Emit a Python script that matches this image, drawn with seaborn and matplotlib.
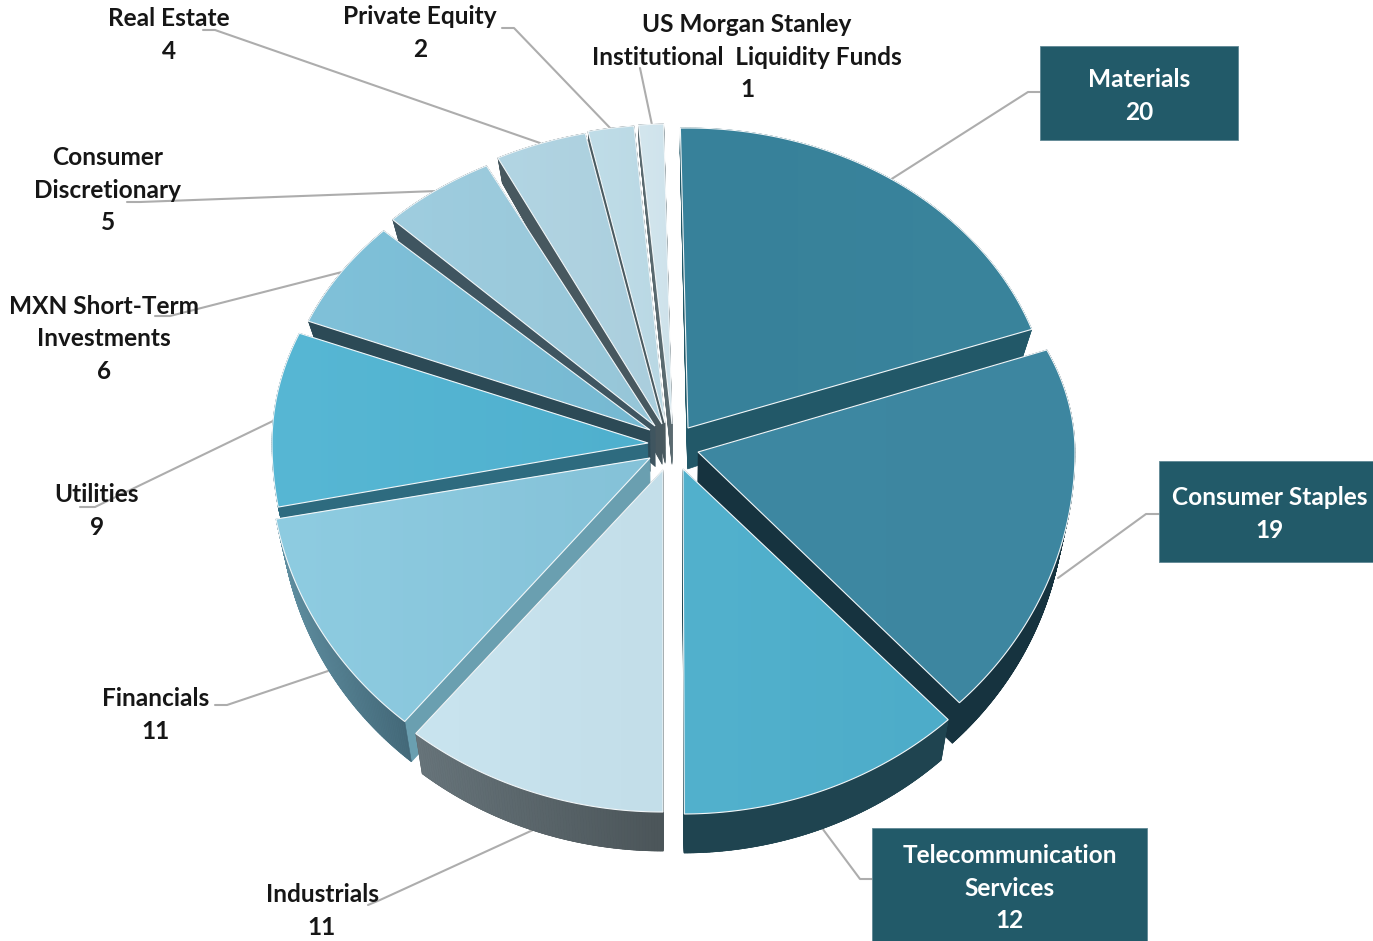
import numpy as np
import matplotlib
matplotlib.use("Agg")
import matplotlib.pyplot as plt
from matplotlib.patches import Polygon, Rectangle
from matplotlib.collections import PolyCollection
from matplotlib.colors import to_rgb, LinearSegmentedColormap
import seaborn as sns

# Portfolio weights by sector
sectors = ["Materials", "Consumer Staples", "Telecommunication\nServices", "Industrials",
           "Financials", "Utilities", "MXN Short-Term\nInvestments", "Consumer\nDiscretionary",
           "Real Estate", "Private Equity", "US Morgan Stanley\nInstitutional  Liquidity Funds"]
weights = [20, 19, 12, 11, 11, 9, 6, 5, 4, 2, 1]

# Colours of the top faces (left and right side), the cut walls and the rim walls
face_left = ["#37819A", "#3E88A2", "#52B1CD", "#C9E4EF", "#8ECCE1", "#57B7D4",
             "#80C1D9", "#9FCDDF", "#B2D5E3", "#C0DDE8", "#D3E6EE"]
face_right = ["#3A849C", "#3D86A0", "#4DACC9", "#C3DEE9", "#85C2D8", "#4FB0CE",
              "#76B9D2", "#96C6D8", "#AACEDD", "#B9D8E4", "#CEE2EB"]
wall_colors = ["#225868", "#16333F", "#1F4450", "#4B5559", "#6A9FB0", "#2E6B7F",
               "#2C4A56", "#3F5560", "#47585F", "#4A5A60", "#5A6A70"]
rim_left = ["#225868", "#16333F", "#1F4450", "#67747A", "#5F8EA0", "#2E6B7F",
            "#2C4A56", "#3F5560", "#47585F", "#4A5A60", "#5A6A70"]
rim_right = ["#225868", "#16333F", "#1F4450", "#4B5559", "#436878", "#2E6B7F",
             "#2C4A56", "#3F5560", "#47585F", "#4A5A60", "#5A6A70"]

# Where each exploded slice sits on the page, in pixels
apex_x = [688, 698, 683, 663, 650, 648, 650, 655, 662, 665, 672]
apex_y = [428, 452, 469, 470, 458, 443, 430, 426, 424, 423, 424]
reach_x = [364, 377, 386, 388, 380, 376, 369, 371, 369, 370, 400]
reach_back = [300, 269, 300, 300, 300, 293, 288, 292, 297, 298, 300]
reach_front = [345, 348, 345, 342, 345, 355, 345, 345, 345, 345, 345]
turn = [0.6, -2.5, -2.0, -1.8, -1.2, -1.4, -1.2, 0.0, 0.6, 0.6, 0.6]
draw_order = [10, 9, 8, 7, 6, 5, 0, 1, 4, 2, 3]

# Callouts: leader line points and text anchors
leaders = [
    [(1040, 92), (1028, 92), (890, 180)],
    [(1159, 514), (1146, 514), (1058, 578)],
    [(872, 879), (860, 879), (822, 828)],
    [(368, 905), (380, 900), (533, 830)],
    [(215, 705), (227, 705), (328, 671)],
    [(80, 507), (95, 507), (275, 420)],
    [(155, 316), (170, 316), (342, 272)],
    [(127, 202), (140, 202), (437, 191)],
    [(203, 30), (215, 30), (540, 143)],
    [(502, 28), (514, 28), (612, 130)],
    [(640, 68), (652, 125)],
]
label_x = [1139, 1270, 1010, 322, 156, 97, 104, 108, 169, 420, 747]
label_y = [96, 514, 888, 911, 715, 511, 339, 190, 35, 33, 57]
boxes = {0: (1040, 46, 198, 94), 1: (1159, 461, 214, 101), 2: (872, 828, 275, 113)}
BOX_COLOR = "#225A69"
LINE_COLOR = "#ADADAD"

sns.set_theme(style="white")
plt.rcParams["font.family"] = ["Lato", "DejaVu Sans"]

W, H = 1373, 941
fig = plt.figure(figsize=(W / 100, H / 100), dpi=100, facecolor="white")
ax = fig.add_axes([0, 0, 1, 1])
wedges, _ = ax.pie(weights, startangle=-91.8, counterclock=True, radius=1,
                   colors=sns.color_palette(face_left))
spans = [(w.theta1, w.theta2) for w in wedges]
for w in wedges:
    w.remove()
ax.set_aspect("auto")
ax.axis("off")


def slice_outline(i, n=90):
    """Arc of slice i in page pixels; the far half of the disc is foreshortened."""
    t = np.radians(np.linspace(spans[i][0] + turn[i], spans[i][1] + turn[i], n))
    ux, uy = np.cos(t), np.sin(t)
    x = apex_x[i] + reach_x[i] * ux
    y = apex_y[i] + np.where(uy > 0, reach_front[i], reach_back[i]) * uy
    return x, y


def drop(x, y, cx, f=1.0):
    """Move points to the underside of the disc: thickest mid-disc, thinner towards the back."""
    depth = np.where(y < 450, np.maximum(44 - (450 - y) * 0.138, 25), 44 - (y - 450) * 0.0138)
    return cx + (x - cx) * (1 - 0.025 * f), y + f * depth


for pts in leaders:
    xs, ys = zip(*pts)
    ax.plot(xs, ys, color=LINE_COLOR, lw=1.5, zorder=1, solid_joinstyle="round")

z = 2
for i in draw_order:
    x, y = slice_outline(i)
    full_x = np.r_[float(apex_x[i]), x]
    full_y = np.r_[float(apex_y[i]), y]
    # Thickness of the disc: stacked copies of the outline between underside and top
    for f in np.linspace(1, 0, 46):
        dx, dy = drop(full_x, full_y, 672, f)
        ax.add_patch(Polygon(np.c_[dx, dy], closed=True, fc=wall_colors[i], ec=wall_colors[i],
                             lw=0.5, zorder=z))
    # Rim wall shaded along the arc
    bx, by = drop(x, y, 672)
    quads = [[(x[k], y[k]), (x[k + 1], y[k + 1]), (bx[k + 1], by[k + 1]), (bx[k], by[k])]
             for k in range(len(x) - 1)]
    lo, hi = np.array(to_rgb(rim_left[i])), np.array(to_rgb(rim_right[i]))
    span = max(x.max() - x.min(), 1)
    cols = [lo + (hi - lo) * np.clip((0.5 * (x[k] + x[k + 1]) - x.min()) / span, 0, 1)
            for k in range(len(x) - 1)]
    ax.add_collection(PolyCollection(quads, facecolors=cols, edgecolors=cols, lw=0.4, zorder=z + 0.1))
    # Top face: soft left-to-right shading clipped to the slice, with a thin light outline
    outline = Polygon(np.c_[full_x, full_y], closed=True, fc="none", ec="#F2F7F9", lw=0.8,
                      zorder=z + 0.3, joinstyle="miter")
    ax.add_patch(outline)
    shade = LinearSegmentedColormap.from_list("face", [face_left[i], face_right[i]])
    img = ax.imshow(np.linspace(0, 1, 64)[None, :], cmap=shade, aspect="auto", zorder=z + 0.2,
                    extent=(full_x.min(), full_x.max(), full_y.max(), full_y.min()),
                    interpolation="bilinear")
    img.set_clip_path(outline)
    z += 1

for i, box in boxes.items():
    ax.add_patch(Rectangle(box[:2], box[2], box[3], fc=BOX_COLOR, ec="#5F8894", lw=0.6, zorder=30))

for i, (name, v) in enumerate(zip(sectors, weights)):
    ax.text(label_x[i], label_y[i], f"{name}\n{v}", ha="center", va="center", ma="center",
            fontsize=17.6, fontweight="bold", linespacing=1.48,
            color="white" if i in boxes else "#161616", zorder=40)

ax.set_xlim(0, W)
ax.set_ylim(H, 0)
fig.savefig("out.png", dpi=100, facecolor="white")
